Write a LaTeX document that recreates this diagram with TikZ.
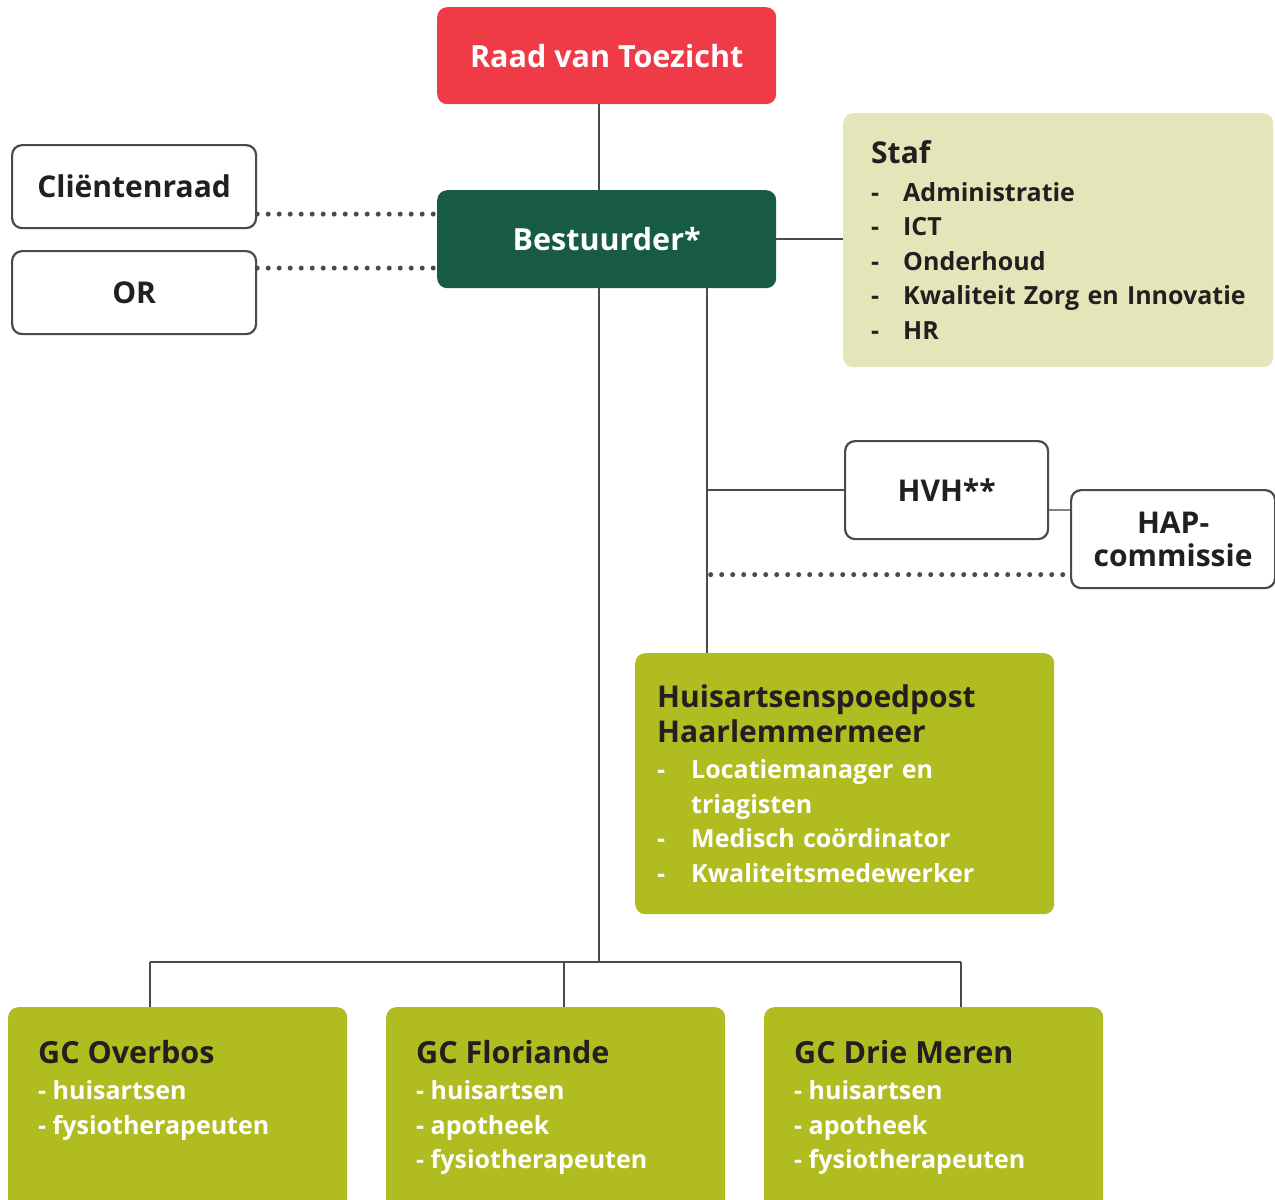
\documentclass[tikz,border=0pt]{standalone}
\usepackage{fontspec}
\setmainfont{Open Sans}
\usetikzlibrary{positioning}
\definecolor{raadred}{HTML}{EF3A47}
\definecolor{bestgreen}{HTML}{175B44}
\definecolor{stafbg}{HTML}{E4E6BA}
\definecolor{lime}{HTML}{B0BC1F}
\definecolor{linegray}{HTML}{4A4A4A}
\definecolor{textdark}{HTML}{231F20}
\definecolor{linkbrown}{HTML}{8B7D78}
\newcommand{\dashitem}[2][32pt]{\mbox{\makebox[#1][l]{-}#2}}

\begin{document}
\begin{tikzpicture}[x=1pt,y=-1pt]
	\tikzset{
		box/.style={rounded corners=10pt,inner sep=0pt,anchor=north west,font=\bfseries\fontsize{30}{34}\selectfont},
		topbox/.style={box,text=white,minimum width=339,minimum height=97,font=\bfseries\fontsize{30.5}{34}\selectfont},
		whitebox/.style={box,draw=linegray,line width=2.2pt,fill=white,text=textdark,minimum width=244,minimum height=83},
		listbox/.style={box,align=left,inner xsep=22pt,font=\bfseries\fontsize{25}{34.5}\selectfont},
		gcbox/.style={box,fill=lime,minimum width=339,minimum height=215},
		gctext/.style={anchor=north west,inner sep=0pt,align=left,text=white,font=\bfseries\fontsize{25}{34.5}\selectfont},
		conn/.style={draw=linegray,line width=2.4pt},
		dots/.style={draw=linegray,line width=5pt,line cap=round,dash pattern=on 0pt off 11pt}
	}
	\useasboundingbox (0,0) rectangle (1275,1200);
	\clip (0,0) rectangle (1275,1200);
	% top of the chart
	\node[topbox,fill=raadred] (raad) at (437,7) {Raad van Toezicht};
	\node[topbox,fill=bestgreen,minimum height=98] (best) at (437,190) {Bestuurder*};
	\node[whitebox] (client) at (11,144) {Cliëntenraad};
	\node[whitebox] (or) at (11,250) {OR};
	\node[listbox,fill=stafbg,text=textdark,inner xsep=28pt,text width=374,minimum height=254] (staf) at (843,113)
		{{\fontsize{30}{34}\selectfont Staf}\\[3pt]
		\dashitem{Administratie}\\
		\dashitem{ICT}\\
		\dashitem{Onderhoud}\\
		\dashitem{Kwaliteit Zorg en Innovatie}\\
		\dashitem{HR}};
	% right branch
	\node[whitebox,minimum width=203,minimum height=98] (hvh) at (844,440) {HVH**};
	\node[whitebox,minimum width=204,minimum height=98,align=center] (hapc) at (1070,489) {HAP-\\[-1pt]commissie};
	\node[listbox,fill=lime,text=white,text width=375,minimum height=261] (hap) at (635,653)
		{{\color{textdark}\fontsize{30}{34}\selectfont Huisartsenspoedpost}\\
		{\color{textdark}\fontsize{30}{34}\selectfont Haarlemmermeer}\\[2pt]
		\dashitem[34pt]{Locatiemanager en}\\
		\hspace*{34pt}triagisten\\
		\dashitem[34pt]{Medisch coördinator}\\
		\dashitem[34pt]{Kwaliteitsmedewerker}};
	% gezondheidscentra
	\node[gcbox] (gco) at (8,1007) {};
	\node[gcbox] (gcf) at (386,1007) {};
	\node[gcbox] (gcd) at (764,1007) {};
	\node[gctext] (gcot) at ([xshift=30pt,yshift=-33pt]gco.north west)
		{{\color{textdark}\fontsize{30.5}{34}\selectfont GC Overbos}\\[2pt]- huisartsen\\- fysiotherapeuten};
	\node[gctext] (gcft) at ([xshift=30pt,yshift=-33pt]gcf.north west)
		{{\color{textdark}\fontsize{30.5}{34}\selectfont GC Floriande}\\[2pt]- huisartsen\\- apotheek\\- fysiotherapeuten};
	\node[gctext] (gcdt) at ([xshift=30pt,yshift=-33pt]gcd.north west)
		{{\color{textdark}\fontsize{30.5}{34}\selectfont GC Drie Meren}\\[2pt]- huisartsen\\- apotheek\\- fysiotherapeuten};
	% connectors
	\coordinate (trunk) at ([xshift=-8pt]best.south);
	\coordinate (branch) at ([xshift=100pt]best.south);
	\coordinate (bus) at (trunk |- 0,962);
	\coordinate (busL) at (150,962);
	\coordinate (busM) at (564,962);
	\coordinate (busR) at (961,962);
	\path[conn]
		([xshift=-8pt]raad.south) edge ([xshift=-8pt]best.north)
		(trunk) edge (bus)
		(busL) edge (busR)
		(busL) edge (busL |- gco.north)
		(busM) edge (busM |- gcf.north)
		(busR) edge (busR |- gcd.north)
		(best.east) edge (best.east -| staf.west)
		(branch) edge (branch |- hap.north)
		(hvh.west -| branch) edge (hvh.west);
	\draw[draw=linkbrown,line width=2pt] ([yshift=-19.5pt]hvh.east) -- ([yshift=-19.5pt]hvh.east -| hapc.west);
	\path[dots]
		([yshift=-27.5pt]client.east) edge ([yshift=-27.5pt]client.east -| best.west)
		([yshift=24.5pt]or.east) edge ([yshift=24.5pt]or.east -| best.west)
		([xshift=4pt,yshift=-35.5pt]hapc.west -| branch) edge ([yshift=-35.5pt]hapc.west);
\end{tikzpicture}
\end{document}
